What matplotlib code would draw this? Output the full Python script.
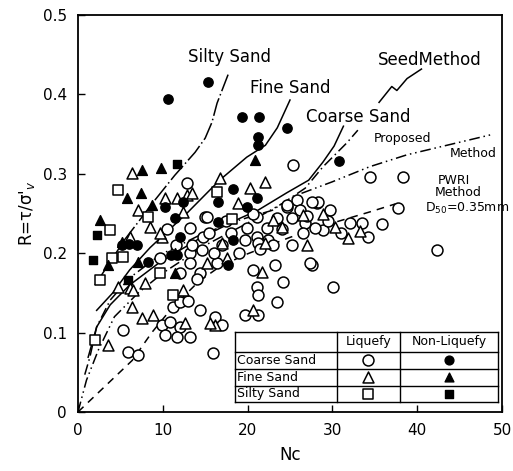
import matplotlib
matplotlib.use("Agg")
import matplotlib.pyplot as plt
import numpy as np

plt.rcParams['font.family'] = ['DejaVu Sans']

# ---------------- data ----------------
coarse_liq_x = [25.4, 34.4, 38.3, 37.7, 28.2, 29.7, 28.9, 32.1, 33.5, 35.8, 34.2, 27.6, 30.1, 42.3, 27.9,
                12.9, 13.2, 9.7, 24.6, 25.8, 28.3, 15.0, 14.7, 19.9, 21.1, 22.3, 23.5, 24.6, 26.2, 27.6,
                25.2, 26.8, 21.1, 22.4, 19.7, 23.2, 24.2, 21.1, 21.2, 23.5, 19.7, 21.2, 14.4, 16.2, 17.0,
                15.9, 20.6, 25.2, 27.4, 21.2, 14.6, 14.4, 16.4, 9.9, 10.8, 12.0, 10.3, 11.7, 11.2, 5.3,
                5.9, 7.1, 13.2, 13.2, 12.0, 13.2, 14.0, 12.0, 13.0, 15.2, 20.6, 10.5, 11.5, 13.5, 15.5,
                17.0, 18.0, 19.0, 21.5, 23.0, 24.0, 17.5, 16.0, 26.5, 27.0, 29.5, 31.0]
coarse_liq_y = [0.311, 0.296, 0.296, 0.257, 0.263, 0.254, 0.229, 0.238, 0.238, 0.237, 0.220, 0.185, 0.157, 0.204, 0.232,
                0.288, 0.232, 0.194, 0.258, 0.267, 0.264, 0.246, 0.220, 0.232, 0.246, 0.232, 0.244, 0.261, 0.254, 0.264,
                0.244, 0.238, 0.220, 0.217, 0.217, 0.185, 0.164, 0.157, 0.147, 0.139, 0.122, 0.122, 0.128, 0.120, 0.110,
                0.074, 0.179, 0.210, 0.188, 0.213, 0.204, 0.175, 0.188, 0.110, 0.113, 0.107, 0.097, 0.094, 0.132, 0.103,
                0.076, 0.072, 0.094, 0.200, 0.175, 0.188, 0.167, 0.138, 0.140, 0.246, 0.250, 0.230, 0.210, 0.210, 0.225,
                0.210, 0.225, 0.200, 0.205, 0.210, 0.230, 0.240, 0.200, 0.225, 0.247, 0.240, 0.225]

coarse_non_x = [10.6, 15.3, 19.3, 21.3, 24.6, 21.2, 21.2, 30.8, 18.3, 21.1, 16.5, 19.9, 16.5, 18.3, 12.4,
                10.3, 11.4, 12.0, 5.2, 6.0, 7.0, 8.3, 11.0, 17.7, 11.7]
coarse_non_y = [0.394, 0.416, 0.371, 0.371, 0.358, 0.346, 0.336, 0.316, 0.281, 0.270, 0.265, 0.258, 0.239, 0.217, 0.265,
                0.258, 0.244, 0.220, 0.210, 0.212, 0.210, 0.189, 0.198, 0.185, 0.198]

fine_liq_x = [6.4, 10.3, 11.7, 12.9, 7.1, 6.1, 8.5, 9.9, 12.4, 16.7, 20.3, 22.1, 18.9, 6.1, 4.7, 7.9, 6.4, 7.5,
              8.8, 3.5, 28.9, 30.3, 33.3, 31.8, 20.6, 16.2, 21.7, 27.0, 22.1, 15.2, 17.6, 23.0, 24.1, 26.5,
              12.6, 15.6, 12.4, 6.5, 9.7, 17.0, 13.4]
fine_liq_y = [0.301, 0.270, 0.270, 0.273, 0.254, 0.220, 0.233, 0.220, 0.252, 0.295, 0.282, 0.290, 0.263, 0.156, 0.158,
              0.162, 0.132, 0.118, 0.122, 0.084, 0.250, 0.233, 0.228, 0.219, 0.128, 0.110, 0.176, 0.210, 0.213, 0.188,
              0.194, 0.242, 0.233, 0.248, 0.112, 0.112, 0.154, 0.154, 0.225, 0.213, 0.276]

fine_non_x = [7.5, 9.8, 5.8, 7.4, 8.7, 2.6, 5.2, 20.9, 3.5, 7.1, 11.4, 11.4]
fine_non_y = [0.305, 0.307, 0.270, 0.276, 0.261, 0.242, 0.214, 0.317, 0.185, 0.189, 0.200, 0.175]

silty_liq_x = [4.7, 8.3, 3.8, 4.0, 5.3, 2.6, 9.7, 11.2, 2.0, 16.4, 18.2]
silty_liq_y = [0.280, 0.246, 0.229, 0.194, 0.195, 0.166, 0.175, 0.147, 0.091, 0.277, 0.243]

silty_non_x = [11.7, 2.2, 1.8, 5.9]
silty_non_y = [0.313, 0.223, 0.191, 0.166]

# curves
silty_curve_x = [2.0, 3.8, 5.5, 7.3, 8.7, 11.4, 13.8, 15.0, 15.8, 16.4, 17.7]
silty_curve_y = [0.160, 0.189, 0.217, 0.242, 0.262, 0.298, 0.327, 0.345, 0.365, 0.389, 0.425]

fine_curve_x = [2.2, 4.1, 6.1, 8.5, 12.9, 16.7, 19.9, 22.1, 23.5, 25.0]
fine_curve_y = [0.128, 0.150, 0.179, 0.207, 0.251, 0.292, 0.321, 0.336, 0.358, 0.393]

coarse_curve_x = [1.2, 2.2, 3.8, 6.1, 9.7, 14.4, 19.1, 21.2, 24.6, 27.2, 28.9, 30.2, 31.3]
coarse_curve_y = [0.069, 0.107, 0.135, 0.160, 0.189, 0.219, 0.244, 0.254, 0.276, 0.292, 0.315, 0.335, 0.36]

seed_curve_x = [0.8, 1.4, 2.2, 3.8, 6.1, 9.7, 14.4, 19.1, 22.9, 26.8, 28.9, 31.7, 33.0]
seed_curve_y = [0.047, 0.069, 0.107, 0.141, 0.169, 0.198, 0.223, 0.242, 0.254, 0.282, 0.309, 0.339, 0.355]
seed_leader_x = [35.5, 37.0, 37.6, 38.8, 40.5]
seed_leader_y = [0.390, 0.410, 0.405, 0.420, 0.432]

proposed_x = [0.0, 1.0, 2.4, 4.3, 7.1, 10.0, 15.0, 20.0, 26.0, 30.0, 34.4, 38.8, 48.6]
proposed_y = [0.0, 0.040, 0.078, 0.120, 0.150, 0.175, 0.210, 0.238, 0.274, 0.290, 0.309, 0.324, 0.349]

pwri_x = [0.0, 6.4, 8.7, 11.0, 14.2, 16.7, 19.7, 25.0, 30.0, 34.4, 37.4]
pwri_y = [0.0, 0.065, 0.100, 0.130, 0.164, 0.183, 0.198, 0.220, 0.238, 0.252, 0.262]

x_ticks = [0, 10, 20, 30, 40, 50]
y_ticks = [0, 0.1, 0.2, 0.3, 0.4, 0.5]
y_ticklabels = ['0', '0.1', '0.2', '0.3', '0.4', '0.5']

legend_rows = ['Coarse Sand', 'Fine Sand', 'Silty Sand']
legend_cols = ['Liquefy', 'Non-Liquefy']
legend_markers = ['o', '^', 's']

# ---------------- plot ----------------
fig = plt.figure(figsize=(5.13, 4.71), dpi=100)
ax = fig.add_axes([0.152, 0.1253, 0.8266, 0.8427])
ax.set_xlim(0, 50)
ax.set_ylim(0, 0.5)

lw = 1.1
ax.plot(silty_curve_x, silty_curve_y, color='black', lw=lw, ls=(0, (12, 2, 1, 2)))
ax.plot(fine_curve_x, fine_curve_y, color='black', lw=lw, ls='-')
ax.plot(coarse_curve_x, coarse_curve_y, color='black', lw=lw, ls='-')
ax.plot(seed_curve_x, seed_curve_y, color='black', lw=lw, ls=(0, (7, 2.5, 1, 2.5)))
ax.plot(seed_leader_x, seed_leader_y, color='black', lw=lw, ls='-')
ax.plot(proposed_x, proposed_y, color='black', lw=lw, ls=(0, (7, 2.5, 1, 2.5, 1, 2.5)))
ax.plot(pwri_x, pwri_y, color='black', lw=lw, ls=(0, (5, 4)))

ms = 62
ax.scatter(coarse_liq_x, coarse_liq_y, s=ms, marker='o', facecolors='white', edgecolors='black', linewidths=1.1, zorder=3)
ax.scatter(fine_liq_x, fine_liq_y, s=ms, marker='^', facecolors='white', edgecolors='black', linewidths=1.1, zorder=3)
ax.scatter(silty_liq_x, silty_liq_y, s=ms, marker='s', facecolors='white', edgecolors='black', linewidths=1.1, zorder=3)
ax.scatter(coarse_non_x, coarse_non_y, s=45, marker='o', color='black', zorder=4)
ax.scatter(fine_non_x, fine_non_y, s=50, marker='^', color='black', zorder=4)
ax.scatter(silty_non_x, silty_non_y, s=40, marker='s', color='black', zorder=4)

# labels on curves
ax.text(17.9, 0.447, 'Silty Sand', fontsize=12, ha='center', va='center')
ax.text(25.0, 0.408, 'Fine Sand', fontsize=12, ha='center', va='center')
ax.text(33.0, 0.372, 'Coarse Sand', fontsize=12, ha='center', va='center')
ax.text(41.5, 0.443, 'SeedMethod', fontsize=12, ha='center', va='center')
ax.text(38.3, 0.345, 'Proposed', fontsize=9, ha='center', va='center')
ax.text(46.6, 0.326, 'Method', fontsize=9, ha='center', va='center')
ax.text(44.3, 0.292, 'PWRI', fontsize=9, ha='center', va='center')
ax.text(44.8, 0.276, 'Method', fontsize=9, ha='center', va='center')
ax.text(45.9, 0.256, r'D$_{50}$=0.35mm', fontsize=9, ha='center', va='center')

# legend table
tx0, tx1, tx2, tx3 = 18.5, 30.5, 38.0, 49.5
ty = [0.101, 0.076, 0.054, 0.033, 0.013]
ax.fill_between([tx0, tx3], ty[-1], ty[0], color='white', zorder=5)
for yv in ty:
    ax.plot([tx0, tx3], [yv, yv], color='black', lw=1.0, zorder=6)
for xv in [tx0, tx1, tx2, tx3]:
    ax.plot([xv, xv], [ty[-1], ty[0]], color='black', lw=1.0, zorder=6)
ax.text((tx1 + tx2) / 2, (ty[0] + ty[1]) / 2, legend_cols[0], fontsize=9, ha='center', va='center', zorder=7)
ax.text((tx2 + tx3) / 2, (ty[0] + ty[1]) / 2, legend_cols[1], fontsize=9, ha='center', va='center', zorder=7)
for i, (name, mk) in enumerate(zip(legend_rows, legend_markers)):
    yc = (ty[i + 1] + ty[i + 2]) / 2
    ax.text(tx0 + 0.3, yc, name, fontsize=9, ha='left', va='center', zorder=7)
    ax.scatter([(tx1 + tx2) / 2], [yc], s=ms, marker=mk, facecolors='white', edgecolors='black', linewidths=1.1, zorder=7)
    ax.scatter([(tx2 + tx3) / 2], [yc], s=40, marker=mk, color='black', zorder=7)

ax.set_xticks(x_ticks)
ax.set_yticks(y_ticks)
ax.set_yticklabels(y_ticklabels)
ax.tick_params(direction='in', length=5, width=1.0, labelsize=11, top=False, right=False, pad=8)
for sp in ax.spines.values():
    sp.set_linewidth(1.3)
ax.set_xlabel('Nc', fontsize=12, labelpad=6)
ax.set_ylabel("R=τ/σ'$_v$", fontsize=12, labelpad=4)

fig.savefig('out.png', dpi=100)
